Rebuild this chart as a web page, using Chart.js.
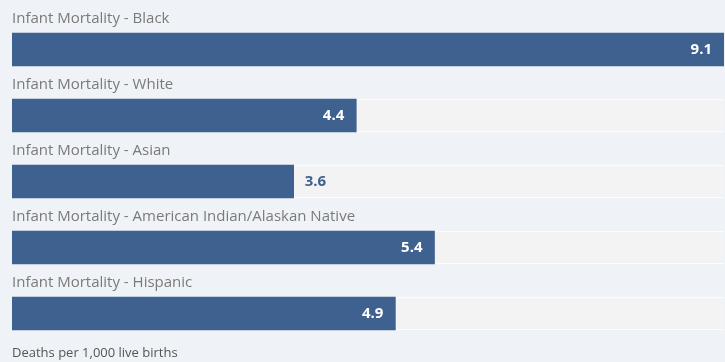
<!DOCTYPE html>
<html>
<head>
<meta charset="utf-8">
<script src="https://cdn.jsdelivr.net/npm/chart.js@4.4.0/dist/chart.umd.min.js"></script>
<style>
  html, body { margin: 0; padding: 0; background: #eff2f7; }
  #wrap { width: 725px; height: 362px; position: relative; }
</style>
</head>
<body>
<div id="wrap"><canvas id="c"></canvas></div>
<script>
// Infant mortality by race/ethnicity
const categories = [
  'Infant Mortality - Black',
  'Infant Mortality - White',
  'Infant Mortality - Asian',
  'Infant Mortality - American Indian/Alaskan Native',
  'Infant Mortality - Hispanic'
];
const rates = [9.1, 4.4, 3.6, 5.4, 4.9];
const scaleMax = 9.1;
const footnote = 'Deaths per 1,000 live births';

const BAR = '#3f6190';
const FONT = '"Open Sans", "Liberation Sans", sans-serif';

// category titles above bars, value labels, and the footnote
const decorations = {
  id: 'decorations',
  afterDatasetsDraw(chart) {
    const ctx = chart.ctx;
    const meta = chart.getDatasetMeta(1);
    const area = chart.chartArea;
    ctx.save();
    meta.data.forEach((bar, i) => {
      const top = bar.y - bar.height / 2;
      ctx.font = '15px ' + FONT;
      ctx.fillStyle = '#7a7a7a';
      ctx.textAlign = 'left';
      ctx.textBaseline = 'middle';
      ctx.fillText(categories[i], area.left, top - 14);

      ctx.font = 'bold 15px ' + FONT;
      const label = rates[i].toFixed(1);
      if (rates[i] >= 4) {
        ctx.fillStyle = '#ffffff';
        ctx.textAlign = 'right';
        ctx.fillText(label, bar.x - 12, bar.y);
      } else {
        ctx.fillStyle = BAR;
        ctx.textAlign = 'left';
        ctx.fillText(label, bar.x + 11, bar.y);
      }
    });
    ctx.font = '13px ' + FONT;
    ctx.fillStyle = '#555555';
    ctx.textAlign = 'left';
    ctx.textBaseline = 'middle';
    ctx.fillText(footnote, area.left, 353);
    ctx.restore();
  }
};

new Chart(document.getElementById('c'), {
  type: 'bar',
  data: {
    labels: categories,
    datasets: [
      {
        // full-width track behind each bar
        data: categories.map(() => scaleMax),
        backgroundColor: '#f3f3f3',
        borderColor: '#ffffff',
        borderWidth: { top: 1, bottom: 1, left: 0, right: 0 },
        borderSkipped: false,
        barThickness: 33,
        grouped: false,
        order: 2
      },
      {
        data: rates,
        backgroundColor: BAR,
        borderWidth: 0,
        barThickness: 33,
        grouped: false,
        order: 1
      }
    ]
  },
  options: {
    indexAxis: 'y',
    responsive: true,
    maintainAspectRatio: false,
    animation: false,
    layout: { padding: { left: 12, right: 1, top: 16.5, bottom: 15.5 } },
    plugins: { legend: { display: false }, tooltip: { enabled: false } },
    scales: {
      x: { min: 0, max: scaleMax, display: false },
      y: { display: false }
    }
  },
  plugins: [decorations]
});
</script>
</body>
</html>
